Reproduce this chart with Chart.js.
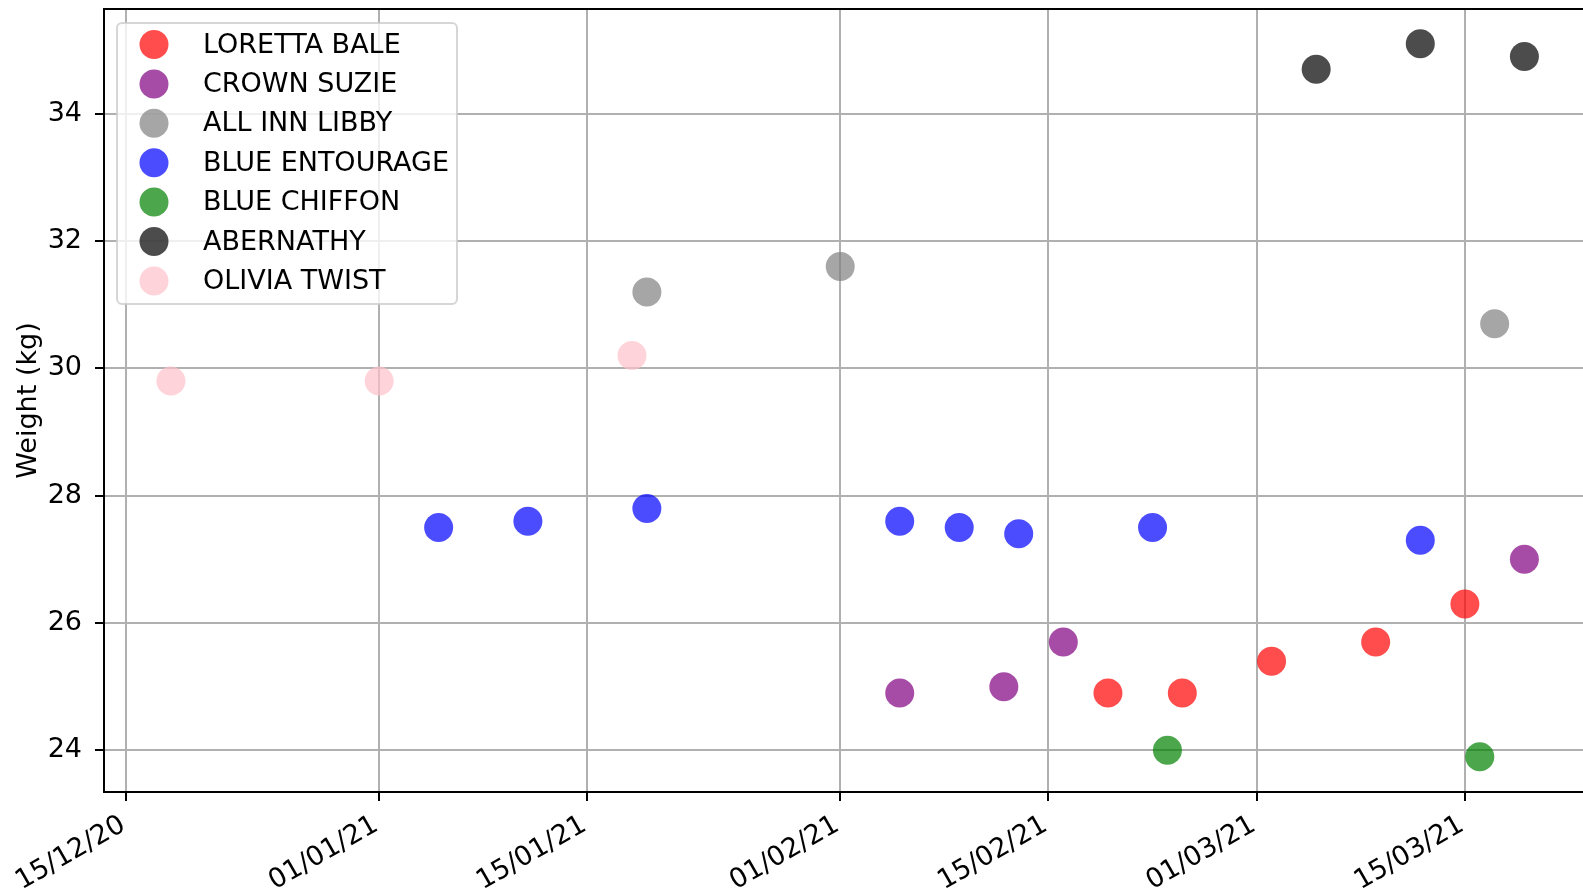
<!DOCTYPE html>
<html>
<head>
<meta charset="utf-8">
<script src="https://cdn.jsdelivr.net/npm/chart.js@4"></script>
<style>
    html, body { margin: 0; padding: 0; background: #fff; }
    #wrap { width: 1583px; height: 890px; }
</style>
</head>
<body>
<div id="wrap"><canvas id="weightChart" width="1583" height="890"></canvas></div>
<script>
// Series data (date, weight in kg)
const seriesNames = ["LORETTA BALE", "CROWN SUZIE", "ALL INN LIBBY", "BLUE ENTOURAGE", "BLUE CHIFFON", "ABERNATHY", "OLIVIA TWIST"];
const seriesColors = ["rgba(255,0,0,0.7)", "rgba(128,0,128,0.7)", "rgba(128,128,128,0.7)", "rgba(0,0,255,0.7)", "rgba(0,128,0,0.7)", "rgba(0,0,0,0.7)", "rgba(255,192,203,0.7)"];

const lorettaDates = ["2021-02-19", "2021-02-24", "2021-03-02", "2021-03-09", "2021-03-15"];
const lorettaWeights = [24.9, 24.9, 25.4, 25.7, 26.3];

const crownDates = ["2021-02-05", "2021-02-12", "2021-02-16", "2021-03-19"];
const crownWeights = [24.9, 25.0, 25.7, 27.0];

const libbyDates = ["2021-01-19", "2021-02-01", "2021-03-17"];
const libbyWeights = [31.2, 31.6, 30.7];

const entourageDates = ["2021-01-05", "2021-01-11", "2021-01-19", "2021-02-05", "2021-02-09", "2021-02-13", "2021-02-22", "2021-03-12"];
const entourageWeights = [27.5, 27.6, 27.8, 27.6, 27.5, 27.4, 27.5, 27.3];

const chiffonDates = ["2021-02-23", "2021-03-16"];
const chiffonWeights = [24.0, 23.9];

const abernathyDates = ["2021-03-05", "2021-03-12", "2021-03-19"];
const abernathyWeights = [34.7, 35.1, 34.9];

const oliviaDates = ["2020-12-18", "2021-01-01", "2021-01-18"];
const oliviaWeights = [29.8, 29.8, 30.2];

const xTickDates = ["2020-12-15", "2021-01-01", "2021-01-15", "2021-02-01", "2021-02-15", "2021-03-01", "2021-03-15"];
const yTickValues = [24, 26, 28, 30, 32, 34];

const FONT = "'DejaVu Sans', sans-serif";
const FONT_SIZE = 27;

// days since epoch, so the x axis can be a plain linear scale
function dayNum(s) {
    const p = s.split("-").map(Number);
    return Date.UTC(p[0], p[1] - 1, p[2]) / 86400000;
}

function fmtDate(d) {
    const dt = new Date(Math.round(d) * 86400000);
    const dd = String(dt.getUTCDate()).padStart(2, "0");
    const mm = String(dt.getUTCMonth() + 1).padStart(2, "0");
    const yy = String(dt.getUTCFullYear()).slice(2);
    return `${dd}/${mm}/${yy}`;
}

function toPoints(dates, weights) {
    return dates.map((d, i) => ({ x: dayNum(d), y: weights[i] }));
}

const allDates = [lorettaDates, crownDates, libbyDates, entourageDates, chiffonDates, abernathyDates, oliviaDates];
const allWeights = [lorettaWeights, crownWeights, libbyWeights, entourageWeights, chiffonWeights, abernathyWeights, oliviaWeights];

const datasets = seriesNames.map((name, i) => ({
    label: name,
    data: toPoints(allDates[i], allWeights[i]),
    backgroundColor: seriesColors[i],
    borderWidth: 0,
    pointRadius: 14.5,
    pointHoverRadius: 14.5,
    order: i
}));

// top spine (the right one falls outside the picture)
const topSpine = {
    id: "topSpine",
    afterDatasetsDraw(chart) {
        const ctx = chart.ctx;
        const area = chart.chartArea;
        ctx.save();
        ctx.beginPath();
        ctx.moveTo(area.left - 1, area.top);
        ctx.lineTo(area.right, area.top);
        ctx.lineWidth = 2;
        ctx.strokeStyle = "#000";
        ctx.stroke();
        ctx.restore();
    }
};

// matplotlib-like legend box inside the plot, top-left
const insideLegend = {
    id: "insideLegend",
    afterDraw(chart) {
        const ctx = chart.ctx;
        const area = chart.chartArea;
        const x0 = area.left + 13, y0 = area.top + 14;
        const w = 340, h = 281, r = 5;
        ctx.save();
        ctx.beginPath();
        ctx.roundRect(x0, y0, w, h, r);
        ctx.fillStyle = "rgba(255,255,255,0.8)";
        ctx.fill();
        ctx.lineWidth = 2;
        ctx.strokeStyle = "rgba(204,204,204,0.8)";
        ctx.stroke();
        ctx.font = `${FONT_SIZE}px ${FONT}`;
        ctx.textBaseline = "middle";
        ctx.textAlign = "left";
        seriesNames.forEach((name, i) => {
            const cy = y0 + 21.5 + i * 39.4;
            ctx.beginPath();
            ctx.arc(x0 + 37, cy, 14.5, 0, Math.PI * 2);
            ctx.fillStyle = seriesColors[i];
            ctx.fill();
            ctx.fillStyle = "#000";
            ctx.fillText(name, x0 + 86, cy + 1);
        });
        ctx.restore();
    }
};

new Chart(document.getElementById("weightChart"), {
    type: "scatter",
    data: { datasets: datasets },
    options: {
        responsive: false,
        animation: false,
        events: [],
        layout: { padding: { top: 9, left: 0, right: 0, bottom: 0 }, autoPadding: false },
        plugins: {
            legend: { display: false },
            tooltip: { enabled: false }
        },
        scales: {
            x: {
                type: "linear",
                min: dayNum("2020-12-15") - 1.5,
                max: dayNum("2021-03-15") + 7.94,
                afterBuildTicks: (scale) => { scale.ticks = xTickDates.map(d => ({ value: dayNum(d) })); },
                afterFit: (scale) => { scale.height = 98; scale.paddingLeft = 0; scale.paddingRight = 0; },
                ticks: {
                    callback: (v) => fmtDate(v),
                    color: "#000",
                    font: { family: FONT, size: FONT_SIZE },
                    minRotation: 30,
                    maxRotation: 30,
                    autoSkip: false,
                    padding: 8,
                    labelOffset: -3
                },
                grid: { color: "#b0b0b0", lineWidth: 2, tickColor: "#000", tickLength: 9, tickWidth: 2 },
                border: { color: "#000", width: 2 }
            },
            y: {
                min: 23.345,
                max: 35.645,
                afterBuildTicks: (scale) => { scale.ticks = yTickValues.map(v => ({ value: v })); },
                afterFit: (scale) => { scale.width = 104; scale.paddingTop = 0; scale.paddingBottom = 0; },
                ticks: {
                    color: "#000",
                    font: { family: FONT, size: FONT_SIZE },
                    padding: 13
                },
                grid: { color: "#b0b0b0", lineWidth: 2, tickColor: "#000", tickLength: 9, tickWidth: 2 },
                border: { color: "#000", width: 2 },
                title: {
                    display: true,
                    text: "Weight (kg)",
                    color: "#000",
                    font: { family: FONT, size: FONT_SIZE },
                    padding: { top: 13, bottom: 0 }
                }
            }
        }
    },
    plugins: [topSpine, insideLegend]
});
</script>
</body>
</html>
